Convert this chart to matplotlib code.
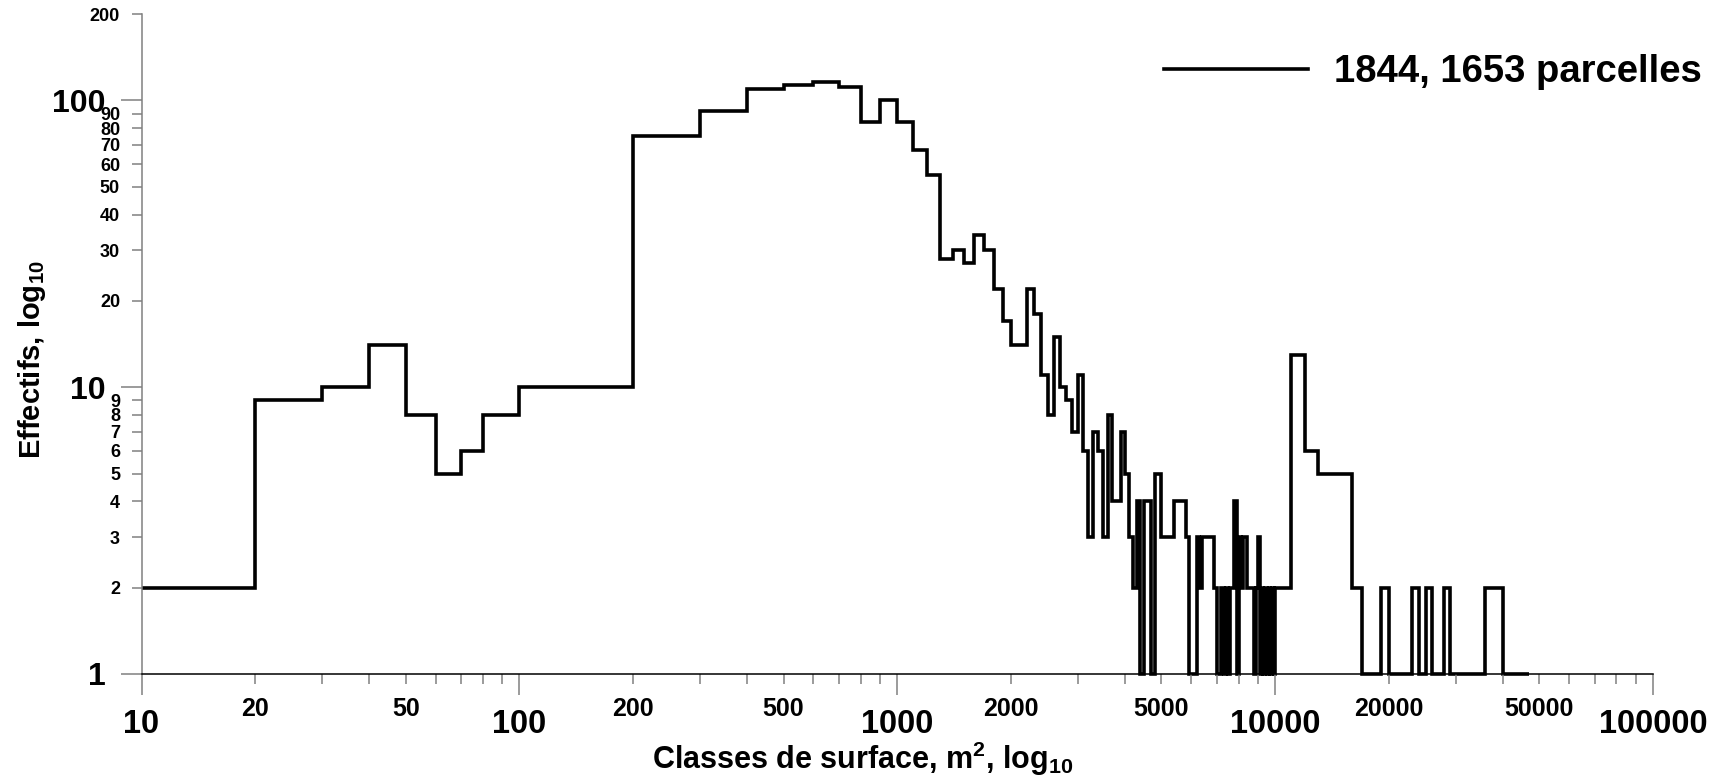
import numpy as np
import matplotlib
matplotlib.use('Agg')
import matplotlib.pyplot as plt

plt.rcParams['font.family'] = ['Liberation Sans', 'DejaVu Sans']
plt.rcParams['mathtext.fontset'] = 'custom'
plt.rcParams['mathtext.rm'] = 'Liberation Sans:bold'
plt.rcParams['mathtext.bf'] = 'Liberation Sans:bold'
plt.rcParams['mathtext.it'] = 'Liberation Sans:bold'

# bornes inferieures des classes de surface (m2)
classes_petites = [10, 20, 30, 40, 50, 60, 70, 80, 100]
effectifs_petites = [2, 9, 10, 14, 8, 5, 6, 8, 10]

# classes de 100 m2
classes_100 = [200, 300, 400, 500, 600, 700, 800, 900,
               1000, 1100, 1200, 1300, 1400, 1500, 1600, 1700, 1800, 1900,
               2000, 2100, 2200, 2300, 2400, 2500, 2600, 2700, 2800, 2900,
               3000, 3100, 3200, 3300, 3400, 3500, 3600, 3700, 3800, 3900,
               4000, 4100, 4200, 4300, 4400, 4500, 4600, 4700, 4800, 4900,
               5000, 5100, 5200, 5300, 5400, 5500, 5600, 5700, 5800, 5900,
               6000, 6100, 6200, 6300, 6400, 6500, 6600, 6700, 6800, 6900,
               7000, 7100, 7200, 7300, 7400, 7500, 7600, 7700, 7800, 7900,
               8000, 8100, 8200, 8300, 8400, 8500, 8600, 8700, 8800, 8900,
               9000, 9100, 9200, 9300, 9400, 9500, 9600, 9700, 9800, 9900]
effectifs_100 = [75, 92, 110, 113, 116, 111, 84, 100,
                 84, 67, 55, 28, 30, 27, 34, 30, 22, 17,
                 14, 14, 22, 18, 11, 8, 15, 10, 9, 7,
                 11, 6, 3, 7, 6, 3, 8, 4, 4, 7,
                 5, 3, 2, 4, 1, 4, 4, 1, 5, 5,
                 3, 3, 3, 3, 4, 4, 4, 4, 3, 1,
                 1, 1, 3, 2, 3, 3, 3, 3, 3, 2,
                 1, 1, 2, 1, 2, 1, 2, 2, 4, 1,
                 3, 2, 3, 3, 2, 2, 2, 2, 1, 2,
                 3, 1, 2, 1, 2, 1, 2, 1, 2, 1]

# classes de 1000 m2
classes_1000 = [10000, 11000, 12000, 13000, 14000, 15000, 16000, 17000, 18000, 19000,
                20000, 21000, 22000, 23000, 24000, 25000, 26000, 27000, 28000, 29000,
                30000, 31000, 32000, 33000, 34000, 35000, 36000, 37000, 38000, 39000,
                40000, 41000, 42000, 43000, 44000, 45000, 46000]
effectifs_1000 = [2, 13, 6, 5, 5, 5, 2, 1, 1, 2,
                  1, 1, 1, 2, 1, 2, 1, 1, 2, 1,
                  1, 1, 1, 1, 1, 1, 2, 2, 2, 2,
                  1, 1, 1, 1, 1, 1, 1]
borne_max = 47000

x_major = [10, 100, 1000, 10000, 100000]
x_major_labels = ['10', '100', '1000', '10000', '100000']
x_minor = [20, 30, 40, 50, 60, 70, 80, 90,
           200, 300, 400, 500, 600, 700, 800, 900,
           2000, 3000, 4000, 5000, 6000, 7000, 8000, 9000,
           20000, 30000, 40000, 50000, 60000, 70000, 80000, 90000]
x_minor_labels = ['20', '', '', '50', '', '', '', '',
                  '200', '', '', '500', '', '', '', '',
                  '2000', '', '', '5000', '', '', '', '',
                  '20000', '', '', '50000', '', '', '', '']
y_major = [1, 10, 100]
y_major_labels = ['1', '10', '100']
y_minor = [2, 3, 4, 5, 6, 7, 8, 9, 20, 30, 40, 50, 60, 70, 80, 90, 200]
y_minor_labels = ['2', '3', '4', '5', '6', '7', '8', '9',
                  '20', '30', '40', '50', '60', '70', '80', '90', '200']

bornes = classes_petites + classes_100 + classes_1000 + [borne_max]
effectifs = effectifs_petites + effectifs_100 + effectifs_1000

fig = plt.figure(figsize=(17.2, 7.8), dpi=100)
ax = fig.add_axes([0.0823, 0.1359, 0.8788, 0.8461])

ax.stairs(effectifs, bornes, baseline=None, color='black', linewidth=2.6,
          clip_on=False, label='1844, 1653 parcelles')

ax.set_xscale('log')
ax.set_yscale('log')
ax.set_xlim(10, 100000)
ax.set_ylim(1, 200)

ax.set_xticks(x_major, labels=x_major_labels, fontsize=23.5, fontweight='bold')
ax.set_xticks(x_minor, labels=x_minor_labels, minor=True, fontsize=18, fontweight='bold')
ax.set_yticks(y_major, labels=y_major_labels, fontsize=23, fontweight='bold')
ax.set_yticks(y_minor, labels=y_minor_labels, minor=True, fontsize=13, fontweight='bold')

ax.tick_params(axis='both', which='major', length=15, width=1.1, color='#808080')
ax.tick_params(axis='both', which='minor', length=7.5, width=1.1, color='#808080')
ax.tick_params(axis='x', which='major', pad=10)
ax.tick_params(axis='x', which='minor', pad=9)
ax.tick_params(axis='y', which='major', pad=11)
ax.tick_params(axis='y', which='minor', pad=8)
ax.yaxis.get_major_ticks()[0].tick1line.set_color('black')

for side in ['top', 'right']:
    ax.spines[side].set_visible(False)
ax.spines['left'].set_color('#808080')
ax.spines['left'].set_linewidth(1.1)
ax.spines['bottom'].set_color('black')
ax.spines['bottom'].set_linewidth(1.1)

ax.set_xlabel(r'Classes de surface, m$^{2}$, log$_{10}$', fontsize=22, fontweight='bold')
ax.xaxis.set_label_coords(0.477, -0.099)
ax.set_ylabel(r'Effectifs, log$_{10}$', fontsize=21, fontweight='bold')
ax.yaxis.set_label_coords(-0.062, 0.477)

leg = ax.legend(loc='center right', bbox_to_anchor=(0.9897, 0.9077),
                bbox_transform=fig.transFigure, frameon=False, borderpad=0,
                borderaxespad=0, handlelength=3.75, handletextpad=0.7,
                prop={'size': 27.5, 'weight': 'bold'})

fig.savefig('out.png', dpi=100)
